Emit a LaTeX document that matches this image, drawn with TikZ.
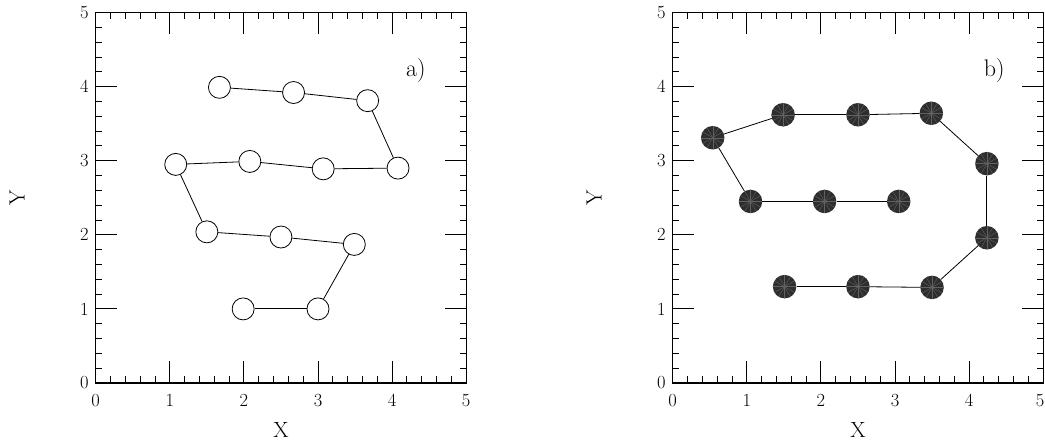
\documentclass[tikz,border=0pt]{standalone}
\begin{document}
\begin{tikzpicture}[
  frame/.style={line width=1.1pt},
  tickmark/.style={line width=0.9pt},
  link/.style={line width=0.8pt},
  hollow/.style={circle, draw, line width=0.8pt, fill=white, minimum size=22pt, inner sep=0pt},
  ball/.style={circle, fill=black!82, minimum size=23.5pt, inner sep=0pt,
    path picture={\foreach \ang in {0,30,...,330}
      \draw[black!62, line width=0.4pt] (path picture bounding box.center) -- ++(\ang:12pt);}},
  ticklab/.style={font=\fontsize{18.5}{18.5}\selectfont, inner sep=0pt},
  axlab/.style={font=\fontsize{22}{22}\selectfont, inner sep=0pt},
  panlab/.style={font=\fontsize{24}{24}\selectfont, inner sep=0pt},
  axesbox/.pic={
    \draw[frame] (0,0) rectangle (5,5);
    \foreach \k in {1,...,24} {
      \draw[tickmark] (\k/5,0) -- ++(0,6.7pt);
      \draw[tickmark] (\k/5,5) -- ++(0,-6.7pt);
      \draw[tickmark] (0,\k/5) -- ++(6.7pt,0);
      \draw[tickmark] (5,\k/5) -- ++(-6.7pt,0);
    }
    \foreach \i in {1,...,4} {
      \draw[tickmark] (\i,0) -- ++(0,21.7pt);
      \draw[tickmark] (\i,5) -- ++(0,-21.7pt);
      \draw[tickmark] (0,\i) -- ++(21.7pt,0);
      \draw[tickmark] (5,\i) -- ++(-21.7pt,0);
    }
    \foreach \i in {0,...,4} {
      \node[ticklab, anchor=base] at (\i,-24pt) {\i};
    }
    \foreach \i in {0,...,5} {
      \node[ticklab, anchor=east] at ([xshift=-7pt]0,\i) {\i};
    }
    \node[axlab] at (2.5,-47pt) {X};
    \node[axlab, rotate=90] at ([xshift=-78.7pt]0,2.5) {Y};
  }
]
\useasboundingbox (0,0) rectangle (1045pt,441pt);

% ---------- panel a ----------
\begin{scope}[shift={(95.7pt,58pt)}, x=74.1pt, y=74.1pt]
  \pic {axesbox};
  \node[ticklab, anchor=base] (xa5) at (5,-24pt) {5};
  \node[panlab, anchor=base] (la) at (4.32,4.13) {a)};
  \node[hollow] (a1)  at (1.67,3.99) {};
  \node[hollow] (a2)  at (2.67,3.92) {};
  \node[hollow] (a3)  at (3.67,3.81) {};
  \node[hollow] (a4)  at (4.08,2.90) {};
  \node[hollow] (a5)  at (3.07,2.89) {};
  \node[hollow] (a6)  at (2.08,2.99) {};
  \node[hollow] (a7)  at (1.08,2.95) {};
  \node[hollow] (a8)  at (1.50,2.04) {};
  \node[hollow] (a9)  at (2.50,1.97) {};
  \node[hollow] (a10) at (3.49,1.87) {};
  \node[hollow] (a11) at (3.00,1.00) {};
  \node[hollow] (a12) at (1.99,1.00) {};
  \foreach \p/\q in {a1/a2,a2/a3,a3/a4,a4/a5,a5/a6,a6/a7,a7/a8,a8/a9,a9/a10,a10/a11,a11/a12}
    \draw[link] (\p) -- (\q);
\end{scope}

% ---------- panel b ----------
\begin{scope}[shift={(672.7pt,58pt)}, x=74.1pt, y=74.1pt]
  \pic {axesbox};
  \node[ticklab, anchor=base east] (xb5) at ([xshift=1.3pt]5,-24pt) {5};
  \node[panlab, anchor=base] (lb) at (4.34,4.13) {b)};
  \node[ball] (b1)  at (3.05,2.45) {};
  \node[ball] (b2)  at (2.05,2.45) {};
  \node[ball] (b3)  at (1.05,2.45) {};
  \node[ball] (b4)  at (0.54,3.31) {};
  \node[ball] (b5)  at (1.49,3.62) {};
  \node[ball] (b6)  at (2.50,3.62) {};
  \node[ball] (b7)  at (3.49,3.64) {};
  \node[ball] (b8)  at (4.24,2.96) {};
  \node[ball] (b9)  at (4.24,1.96) {};
  \node[ball] (b10) at (3.50,1.29) {};
  \node[ball] (b11) at (2.50,1.30) {};
  \node[ball] (b12) at (1.51,1.30) {};
  \foreach \p/\q in {b1/b2,b2/b3,b3/b4,b4/b5,b5/b6,b6/b7,b7/b8,b8/b9,b9/b10,b10/b11,b11/b12}
    \draw[link] (\p) -- (\q);
\end{scope}
\end{tikzpicture}
\end{document}
